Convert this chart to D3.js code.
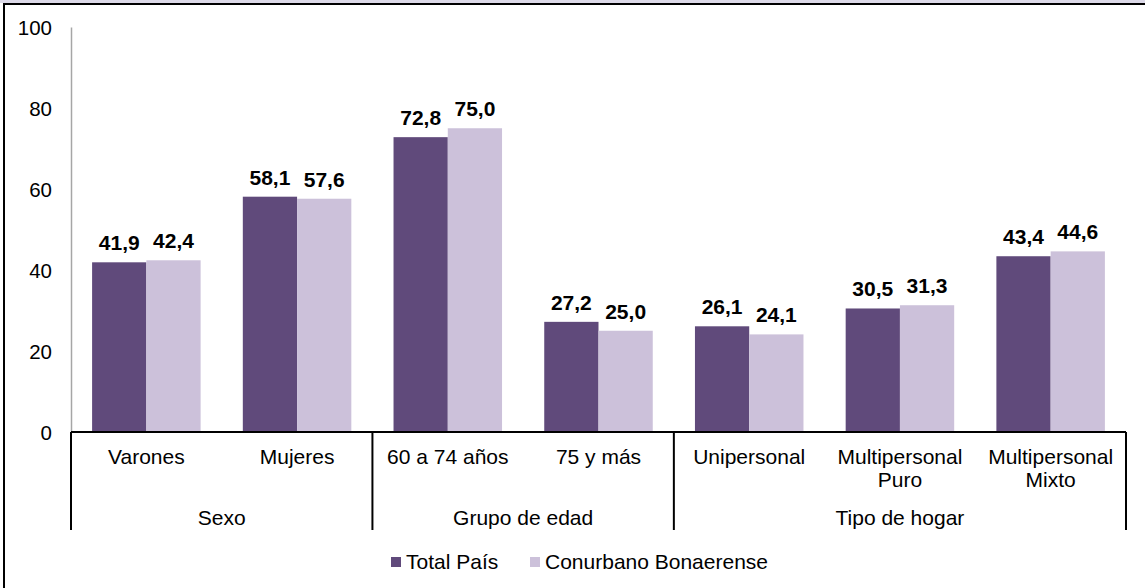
<!DOCTYPE html>
<html>
<head>
<meta charset="utf-8">
<script src="https://cdn.jsdelivr.net/npm/d3@7/dist/d3.min.js"></script>
<style>
  body { margin: 0; background: #fff; }
  svg text { font-family: "Liberation Sans", Arial, sans-serif; fill: #000; }
</style>
</head>
<body>
<div id="chart"></div>
<script>
// datos del grafico
const categories = [
  ['Varones'], ['Mujeres'], ['60 a 74 años'], ['75 y más'],
  ['Unipersonal'], ['Multipersonal', 'Puro'], ['Multipersonal', 'Mixto']
];
const groups = [
  { name: 'Sexo', from: 0, to: 1 },
  { name: 'Grupo de edad', from: 2, to: 3 },
  { name: 'Tipo de hogar', from: 4, to: 6 }
];
const seriesNames = ['Total País', 'Conurbano Bonaerense'];
const totalPais = [41.9, 58.1, 72.8, 27.2, 26.1, 30.5, 43.4];
const conurbano = [42.4, 57.6, 75.0, 25.0, 24.1, 31.3, 44.6];
const yTicks = [0, 20, 40, 60, 80, 100];

const colors = ['#604a7b', '#ccc1da'];
const fmt = d3.format('.1f');

const W = 1145;
const H = 588;
const plot = { left: 71, right: 1126, top: 27, bottom: 432 };

const svg = d3.select('#chart').append('svg')
  .attr('width', W)
  .attr('height', H);

// marco exterior (franja superior recortada)
svg.append('rect').attr('x', 0).attr('y', 0).attr('width', W).attr('height', 3)
  .attr('fill', '#dcd9e8');
svg.append('line').attr('x1', 3).attr('x2', W).attr('y1', 4).attr('y2', 4)
  .attr('stroke', '#000').attr('stroke-width', 2);
svg.append('line').attr('x1', 4).attr('x2', 4).attr('y1', 3).attr('y2', H)
  .attr('stroke', '#000').attr('stroke-width', 2);

const idx = categories.map((c, i) => i);
const x0 = d3.scaleBand()
  .domain(idx)
  .range([plot.left, plot.right])
  .paddingInner(0.28)
  .paddingOuter(0.14);
const x1 = d3.scaleBand()
  .domain([0, 1])
  .range([0, x0.bandwidth()]);
const y = d3.scaleLinear()
  .domain([0, 100])
  .range([plot.bottom, plot.top]);

// eje y
const yAxis = svg.append('g')
  .attr('transform', `translate(${plot.left},0)`)
  .call(d3.axisLeft(y).tickValues(yTicks).tickSize(0).tickPadding(19));
yAxis.select('.domain').attr('stroke', '#a6a6a6').attr('stroke-width', 1.5);
yAxis.selectAll('text').attr('font-size', 20.5).attr('dy', '0.35em');

// barras
const data = [totalPais, conurbano];
data.forEach((vals, s) => {
  svg.append('g').selectAll('rect')
    .data(vals)
    .enter()
    .append('rect')
    .attr('x', (d, i) => x0(i) + x1(s))
    .attr('y', d => y(d))
    .attr('width', x1.bandwidth())
    .attr('height', d => y(0) - y(d))
    .attr('fill', colors[s]);

  svg.append('g').selectAll('text')
    .data(vals)
    .enter()
    .append('text')
    .attr('x', (d, i) => x0(i) + x1(s) + x1.bandwidth() / 2)
    .attr('y', d => y(d) - 12)
    .attr('text-anchor', 'middle')
    .attr('font-size', 21)
    .attr('font-weight', 'bold')
    .text(d => fmt(d).replace('.', ','));
});

// eje x con categorias y grupos
svg.append('line')
  .attr('x1', plot.left).attr('x2', plot.right)
  .attr('y1', plot.bottom).attr('y2', plot.bottom)
  .attr('stroke', '#000').attr('stroke-width', 2);

const catG = svg.append('g');
categories.forEach((lines, i) => {
  const t = catG.append('text')
    .attr('x', x0(i) + x0.bandwidth() / 2)
    .attr('y', 464)
    .attr('text-anchor', 'middle')
    .attr('font-size', 21);
  lines.forEach((ln, k) => {
    t.append('tspan')
      .attr('x', x0(i) + x0.bandwidth() / 2)
      .attr('dy', k === 0 ? 0 : 23)
      .text(ln);
  });
});

const sepX = i => x0(i) - (x0.step() - x0.bandwidth()) / 2;
const seps = [0].concat(groups.map(g => g.to + 1));
seps.forEach((i) => {
  const xx = i === 0 ? plot.left : (i >= categories.length ? plot.right : sepX(i));
  svg.append('line')
    .attr('x1', xx).attr('x2', xx)
    .attr('y1', plot.bottom).attr('y2', 530)
    .attr('stroke', '#000').attr('stroke-width', 2);
});

groups.forEach((g) => {
  const a = g.from === 0 ? plot.left : sepX(g.from);
  const b = g.to + 1 >= categories.length ? plot.right : sepX(g.to + 1);
  svg.append('text')
    .attr('x', (a + b) / 2)
    .attr('y', 525)
    .attr('text-anchor', 'middle')
    .attr('font-size', 21)
    .text(g.name);
});

// leyenda
const legend = svg.append('g').attr('transform', 'translate(391,562)');
const legX = [0, 139];
seriesNames.forEach((name, s) => {
  legend.append('rect')
    .attr('x', legX[s]).attr('y', -5)
    .attr('width', 10).attr('height', 10)
    .attr('fill', colors[s]);
  legend.append('text')
    .attr('x', legX[s] + 15)
    .attr('y', 7)
    .attr('font-size', 21)
    .text(name);
});
</script>
</body>
</html>
